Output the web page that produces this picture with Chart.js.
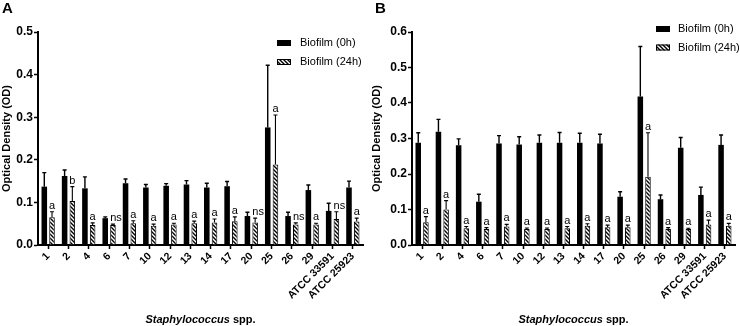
<!DOCTYPE html>
<html>
<head>
<meta charset="utf-8">
<script src="https://cdn.jsdelivr.net/npm/chart.js@4.4.1/dist/chart.umd.min.js"></script>
<style>
  html, body { margin: 0; padding: 0; background: #fff; }
  #wrap { position: relative; width: 740px; height: 326px; }
  .panel { position: absolute; top: 0; width: 370px; height: 326px; }
</style>
</head>
<body>
<div id="wrap">
  <div class="panel" style="left:0"><canvas id="chartA" width="370" height="326"></canvas></div>
  <div class="panel" style="left:370px"><canvas id="chartB" width="370" height="326"></canvas></div>
</div>
<script>
const strains = ['1', '2', '4', '6', '7', '10', '12', '13', '14', '17', '20', '25', '26', '29', 'ATCC 33591', 'ATCC 25923'];
const seriesNames = ['Biofilm (0h)', 'Biofilm (24h)'];

// panel A
const a0h    = [0.137, 0.162, 0.133, 0.063, 0.145, 0.135, 0.139, 0.142, 0.135, 0.138, 0.068, 0.276, 0.068, 0.129, 0.080, 0.135];
const a0hSd  = [0.033, 0.014, 0.027, 0.003, 0.010, 0.007, 0.005, 0.009, 0.010, 0.011, 0.009, 0.146, 0.009, 0.012, 0.018, 0.015];
const a24h   = [0.065, 0.103, 0.047, 0.047, 0.051, 0.045, 0.048, 0.051, 0.053, 0.056, 0.053, 0.189, 0.048, 0.048, 0.061, 0.055];
const a24hSd = [0.013, 0.034, 0.005, 0.002, 0.006, 0.004, 0.003, 0.005, 0.008, 0.010, 0.010, 0.116, 0.004, 0.003, 0.017, 0.008];
const aSig   = ['a', 'b', 'a', 'ns', 'a', 'a', 'a', 'a', 'a', 'a', 'ns', 'a', 'ns', 'a', 'ns', 'a'];
const yTicksA = [0, 0.1, 0.2, 0.3, 0.4, 0.5];

// panel B
const b0h    = [0.288, 0.319, 0.281, 0.122, 0.286, 0.283, 0.288, 0.288, 0.288, 0.286, 0.136, 0.418, 0.129, 0.274, 0.141, 0.282];
const b0hSd  = [0.028, 0.035, 0.018, 0.021, 0.022, 0.022, 0.022, 0.029, 0.027, 0.026, 0.014, 0.141, 0.012, 0.029, 0.022, 0.028];
const b24h   = [0.064, 0.100, 0.047, 0.045, 0.052, 0.045, 0.045, 0.047, 0.054, 0.050, 0.050, 0.192, 0.045, 0.045, 0.058, 0.054];
const b24hSd = [0.016, 0.025, 0.005, 0.004, 0.006, 0.003, 0.003, 0.005, 0.006, 0.006, 0.006, 0.124, 0.004, 0.002, 0.012, 0.007];
const bSig   = ['a', 'a', 'a', 'a', 'a', 'a', 'a', 'a', 'a', 'a', 'a', 'a', 'a', 'a', 'a', 'a'];
const yTicksB = [0, 0.1, 0.2, 0.3, 0.4, 0.5, 0.6];

const FONT = "'Liberation Sans', Arial, sans-serif";

function hatch(ctx) {
  const c = document.createElement('canvas');
  c.width = 4; c.height = 4;
  const g = c.getContext('2d');
  g.fillStyle = '#fff';
  g.fillRect(0, 0, 4, 4);
  g.strokeStyle = '#000';
  g.lineWidth = 1.4;
  g.beginPath();
  g.moveTo(0, 0); g.lineTo(4, 4);
  g.moveTo(-1, 3); g.lineTo(1, 5);
  g.moveTo(3, -1); g.lineTo(5, 1);
  g.stroke();
  return ctx.createPattern(c, 'repeat');
}

// error bars, letters, legend and titles
const decor = {
  id: 'decor',
  afterDatasetsDraw(chart) {
    const ctx = chart.ctx;
    const y = chart.scales.y;
    const o = chart.options.plugins.decor;
    ctx.save();
    chart.data.datasets.forEach((ds, i) => {
      chart.getDatasetMeta(i).data.forEach((bar, j) => {
        const top = y.getPixelForValue(ds.data[j] + ds.sd[j]);
        ctx.strokeStyle = '#000';
        ctx.lineWidth = i === 0 ? 1.4 : 1.1;
        ctx.beginPath();
        ctx.moveTo(bar.x, bar.y);
        ctx.lineTo(bar.x, top);
        ctx.moveTo(bar.x - 2, top);
        ctx.lineTo(bar.x + 2, top);
        ctx.stroke();
        if (i === 1) {
          ctx.fillStyle = '#000';
          ctx.font = '11px ' + FONT;
          ctx.textAlign = 'center';
          ctx.textBaseline = 'alphabetic';
          const s = o.sig[j];
          ctx.fillText(s, bar.x + (s.length > 1 ? 3 : 0), top - 3);
        }
      });
    });
    ctx.restore();
  },
  afterDraw(chart) {
    const ctx = chart.ctx;
    const o = chart.options.plugins.decor;
    const area = chart.chartArea;
    ctx.save();
    ctx.fillStyle = '#000';

    // panel letter
    ctx.font = 'bold 15px ' + FONT;
    ctx.textAlign = 'left';
    ctx.textBaseline = 'alphabetic';
    ctx.fillText(o.letter, o.letterX, 13);

    // y title
    ctx.save();
    ctx.translate(o.yTitleX, (area.top + area.bottom) / 2);
    ctx.rotate(-Math.PI / 2);
    ctx.font = 'bold 11px ' + FONT;
    ctx.textAlign = 'center';
    ctx.textBaseline = 'middle';
    ctx.fillText('Optical Density (OD)', 0, 0);
    ctx.restore();

    // x title: italic genus + plain spp.
    const f1 = 'italic bold 11px ' + FONT, f2 = 'bold 11px ' + FONT;
    ctx.font = f1;
    const w1 = ctx.measureText('Staphylococcus').width;
    ctx.font = f2;
    const w2 = ctx.measureText(' spp.').width;
    let x = (area.left + area.right) / 2 - (w1 + w2) / 2;
    ctx.textAlign = 'left';
    ctx.font = f1;
    ctx.fillText('Staphylococcus', x, 323);
    ctx.font = f2;
    ctx.fillText(' spp.', x + w1, 323);

    // legend
    ctx.font = '11px ' + FONT;
    ctx.textBaseline = 'middle';
    chart.data.datasets.forEach((ds, i) => {
      const cy = o.legendY[i];
      ctx.fillStyle = ds.backgroundColor;
      ctx.fillRect(o.legendX, cy - 3, 14, 6);
      if (i === 1) {
        ctx.strokeStyle = '#000';
        ctx.lineWidth = 1;
        ctx.strokeRect(o.legendX + 0.5, cy - 2.5, 13, 5);
      }
      ctx.fillStyle = '#000';
      ctx.fillText(ds.label, o.legendX + o.legendGap, cy);
    });
    ctx.restore();
  }
};

function makeChart(id, v0, s0, v1, s1, sig, ticks, setup) {
  const ctx = document.getElementById(id).getContext('2d');
  return new Chart(ctx, {
    type: 'bar',
    data: {
      labels: strains,
      datasets: [
        { label: seriesNames[0], data: v0, sd: s0, backgroundColor: '#000', borderWidth: 0 },
        { label: seriesNames[1], data: v1, sd: s1, backgroundColor: hatch(ctx), borderColor: '#000', borderWidth: 1 }
      ]
    },
    options: {
      responsive: false,
      animation: false,
      events: [],
      categoryPercentage: 0.76,
      barPercentage: 0.72,
      layout: { padding: { top: 32, right: setup.right, left: 0, bottom: 0 } },
      plugins: {
        legend: { display: false },
        tooltip: { enabled: false },
        decor: Object.assign({ sig: sig }, setup)
      },
      scales: {
        x: {
          offset: true,
          afterFit: s => { s.height = 81; },
          border: { color: '#000', width: 2 },
          grid: { display: true, drawOnChartArea: false, offset: false, tickLength: 4, tickColor: '#000', tickWidth: 1.5 },
          ticks: {
            autoSkip: false, maxRotation: 45, minRotation: 45, padding: 1,
            color: '#000', font: { family: FONT, size: 10.5, weight: 'bold' }
          }
        },
        y: {
          min: 0,
          max: ticks[ticks.length - 1],
          afterFit: s => { s.width = setup.left; },
          afterBuildTicks: s => { s.ticks = ticks.map(v => ({ value: v })); },
          border: { color: '#000', width: 2 },
          grid: { display: true, drawOnChartArea: false, tickLength: 4, tickColor: '#000', tickWidth: 1.5 },
          ticks: {
            padding: 1, color: '#000',
            font: { family: FONT, size: 12, weight: 'bold' },
            callback: v => Number(v).toFixed(1)
          }
        }
      }
    },
    plugins: [decor]
  });
}

makeChart('chartA', a0h, a0hSd, a24h, a24hSd, aSig, yTicksA,
  { left: 38, right: 7, letter: 'A', letterX: 2, yTitleX: 7, legendX: 277, legendGap: 23, legendY: [43, 62] });
makeChart('chartB', b0h, b0hSd, b24h, b24hSd, bSig, yTicksB,
  { left: 42, right: 5, letter: 'B', letterX: 5, yTitleX: 7, legendX: 286, legendGap: 22, legendY: [29, 47.5] });
</script>
</body>
</html>
